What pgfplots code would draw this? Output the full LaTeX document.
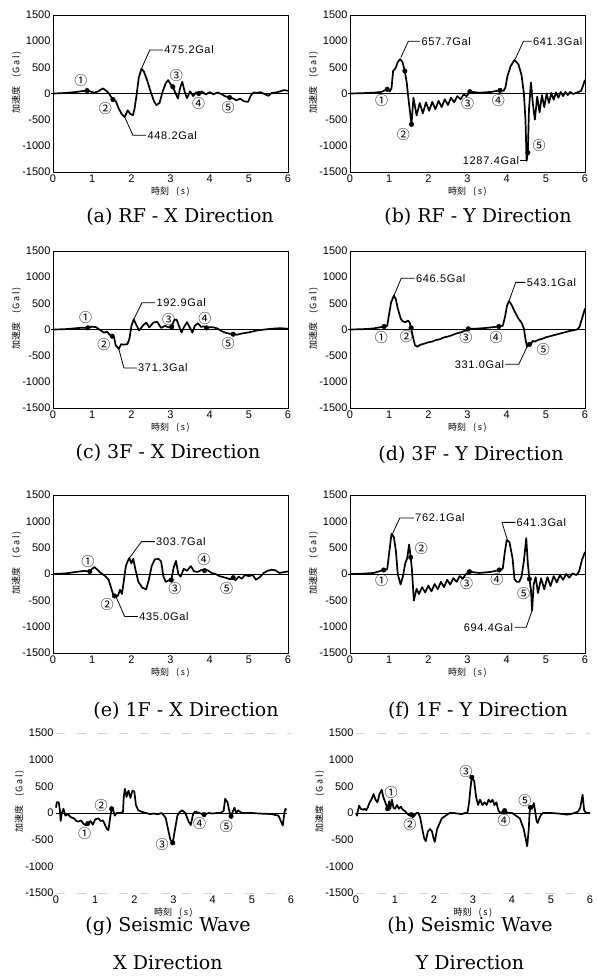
\documentclass[border=0pt]{standalone}
\usepackage{fontspec}
\usepackage{pgfplots}
\pgfplotsset{compat=1.18}

\newfontfamily\tickfamily{Liberation Sans}
\newfontfamily\valfamily[LetterSpace=6]{Liberation Sans}
\newfontfamily\jpfamily{Noto Sans CJK JP}
\newfontfamily\jpwidefamily[LetterSpace=18]{Noto Sans CJK JP}
\newfontfamily\capfamily{DejaVu Serif}
\newcommand\tickfont{\tickfamily\fontsize{11}{12}\selectfont}
\newcommand\valfont{\valfamily\fontsize{11}{12}\selectfont}
\newcommand\jpfont{\jpfamily\fontsize{9}{10}\selectfont}
\newcommand\circfont{\jpfamily\fontsize{13}{13}\selectfont}
\newcommand\capfont{\capfamily\fontsize{19}{22}\selectfont}
\newcommand\unit[1]{{\jpwidefamily\fontsize{9}{10}\selectfont #1}}

% circled marker number placed in data coordinates
\newcommand\cn[3]{\node[font=\circfont, inner sep=0pt] at (axis cs:#1,#2) {#3};}

\pgfplotsset{
  panel/.style={
    scale only axis, width=235pt, height=157pt,
    anchor=south west, clip=false,
    xmin=0, xmax=6, ymin=-1500, ymax=1500,
    xtick={0,1,...,6}, ytick={-1500,-1000,...,1500},
    tick pos=left, major tick length=0pt,
    ticklabel style={font=\tickfont},
    /pgf/number format/assume math mode=true,
    /pgf/number format/1000 sep={},
    xticklabel style={yshift=1pt},
    yticklabel style={xshift=1pt},
    axis line style={line width=0.8pt},
    xlabel={\jpfont 時刻\hspace{7pt}\unit{(s)}},
    ylabel={\jpfont 加速度\hspace{9pt}\unit{(Gal)}},
    xlabel style={at={(axis description cs:0.5,-0.125)}, anchor=center},
    ylabel style={at={(axis description cs:-0.155,0.57)}, anchor=center},
  },
  seis/.style={panel, height=160pt, axis line style={draw=none}},
  trace/.style={black, line width=1.7pt, line join=round, mark=none},
  dots/.style={black, only marks, mark=*, mark size=2.3pt},
}

\begin{document}
\begin{tikzpicture}
\useasboundingbox (0,0) rectangle (597pt,978pt);

% ---------------- (a) RF - X ----------------
\begin{axis}[panel, at={(53pt,806pt)}]
\draw[line width=0.6pt] (axis cs:-0.05,0) -- (axis cs:6,0);
\addplot[trace] coordinates {(0,0) (0.2,5) (0.4,15) (0.6,30) (0.75,45) (0.87,55) (0.95,40) (1.05,15) (1.15,40) (1.27,96) (1.35,60) (1.42,10) (1.48,-60) (1.53,-115) (1.6,-140) (1.68,-290) (1.76,-400) (1.83,-448.2) (1.91,-320) (1.97,-390) (2.04,-415) (2.08,-300) (2.13,-50) (2.19,300) (2.26,475.2) (2.32,420) (2.4,260) (2.5,20) (2.58,-150) (2.64,-223) (2.72,-180) (2.8,40) (2.88,200) (2.94,255) (3.0,180) (3.06,128) (3.12,20) (3.19,-96) (3.25,120) (3.30,223) (3.36,40) (3.42,-90) (3.5,40) (3.58,-50) (3.65,20) (3.72,0) (3.8,40) (3.9,-20) (4.0,25) (4.1,-15) (4.2,20) (4.3,-10) (4.4,-55) (4.51,-77) (4.6,-95) (4.68,-130) (4.78,-100) (4.88,-150) (4.98,-160) (5.05,-40) (5.12,20) (5.2,10) (5.3,25) (5.4,-10) (5.5,-45) (5.58,10) (5.7,20) (5.8,40) (5.9,65) (6.0,50)};
\addplot[dots] coordinates {(0.87,55) (1.53,-115) (3.06,128) (3.72,0) (4.51,-77)};
\cn{0.71}{255}{①}\cn{1.34}{-287}{②}\cn{3.15}{351}{③}\cn{3.72}{-191}{④}\cn{4.47}{-268}{⑤}
\draw[line width=0.8pt] (axis cs:2.26,475.2) -- (axis cs:2.47,830) -- (axis cs:2.81,830) node[right, font=\valfont, inner sep=1pt] {475.2Gal};
\draw[line width=0.8pt] (axis cs:1.83,-448.2) -- (axis cs:2.04,-797) -- (axis cs:2.38,-797) node[right, font=\valfont, inner sep=1pt] {448.2Gal};
\end{axis}

% ---------------- (b) RF - Y ----------------
\begin{axis}[panel, at={(350pt,806pt)}]
\draw[line width=0.6pt] (axis cs:-0.05,0) -- (axis cs:6,0);
\addplot[trace] coordinates {(0,0) (0.3,5) (0.6,15) (0.8,30) (0.95,80) (1.02,40) (1.06,100) (1.1,430) (1.16,480) (1.22,600) (1.28,657.7) (1.34,600) (1.40,430) (1.45,200) (1.5,-150) (1.57,-590) (1.62,-80) (1.70,-420) (1.78,-180) (1.86,-380) (1.94,-170) (2.02,-330) (2.10,-160) (2.18,-300) (2.26,-140) (2.34,-260) (2.42,-110) (2.50,-220) (2.58,-80) (2.66,-170) (2.74,-50) (2.82,-110) (2.90,-20) (2.98,-50) (3.06,35) (3.3,15) (3.6,30) (3.83,60) (3.92,50) (3.97,120) (4.02,330) (4.1,520) (4.2,641.3) (4.3,560) (4.38,350) (4.44,0) (4.48,-500) (4.51,-1287.4) (4.54,-1130) (4.57,-300) (4.62,210) (4.67,-200) (4.72,-500) (4.78,-60) (4.84,-360) (4.90,-30) (4.96,-260) (5.02,0) (5.08,-180) (5.14,10) (5.20,-120) (5.26,20) (5.32,-80) (5.38,30) (5.44,-50) (5.50,30) (5.56,-30) (5.62,30) (5.70,-10) (5.80,20) (5.9,50) (5.95,150) (6.0,260)};
\addplot[dots] coordinates {(0.95,80) (1.40,430) (1.57,-590) (3.06,35) (3.83,60) (4.54,-1130)};
\cn{0.81}{-135}{①}\cn{1.36}{-780}{②}\cn{3.0}{-200}{③}\cn{3.79}{-135}{④}\cn{4.83}{-990}{⑤}
\draw[line width=0.8pt] (axis cs:1.30,690) -- (axis cs:1.49,1000) -- (axis cs:1.79,1000) node[right, font=\valfont, inner sep=1pt] {657.7Gal};
\draw[line width=0.8pt] (axis cs:4.22,660) -- (axis cs:4.43,1000) -- (axis cs:4.64,1000) node[right, font=\valfont, inner sep=1pt] {641.3Gal};
\draw[line width=0.8pt] (axis cs:4.51,-1287.4) -- (axis cs:4.35,-1287.4) node[left, font=\valfont, inner sep=1pt] {1287.4Gal};
\end{axis}

% ---------------- (c) 3F - X ----------------
\begin{axis}[panel, at={(53pt,570pt)}]
\draw[line width=0.6pt] (axis cs:-0.05,0) -- (axis cs:6,0);
\addplot[trace] coordinates {(0,0) (0.3,5) (0.6,25) (0.75,35) (0.89,32) (1.0,55) (1.1,45) (1.2,-10) (1.3,-60) (1.38,-40) (1.45,-100) (1.51,-128) (1.56,-150) (1.6,-300) (1.68,-371.3) (1.74,-280) (1.8,-290) (1.9,-280) (1.95,-180) (2.0,60) (2.06,192.9) (2.12,100) (2.2,-20) (2.3,80) (2.38,130) (2.46,40) (2.56,130) (2.66,150) (2.76,30) (2.86,70) (2.95,40) (3.03,50) (3.1,190) (3.16,185) (3.22,60) (3.28,-60) (3.34,40) (3.42,140) (3.5,30) (3.56,-60) (3.62,70) (3.7,120) (3.78,50) (3.85,60) (3.92,30) (4.0,45) (4.1,40) (4.2,20) (4.3,-30) (4.4,-60) (4.5,-80) (4.6,-90) (4.7,-100) (4.8,-80) (5.0,-55) (5.2,-20) (5.4,0) (5.6,15) (5.8,25) (6.0,15)};
\addplot[dots] coordinates {(0.89,32) (1.51,-128) (3.03,50) (3.92,30) (4.6,-90)};
\cn{0.83}{223}{①}\cn{1.30}{-287}{②}\cn{2.95}{191}{③}\cn{3.88}{204}{④}\cn{4.47}{-268}{⑤}
\draw[line width=0.8pt] (axis cs:2.06,192.9) -- (axis cs:2.27,510) -- (axis cs:2.61,510) node[right, font=\valfont, inner sep=1pt] {192.9Gal};
\draw[line width=0.8pt] (axis cs:1.68,-371.3) -- (axis cs:1.81,-734) -- (axis cs:2.14,-734) node[right, font=\valfont, inner sep=1pt] {371.3Gal};
\end{axis}

% ---------------- (d) 3F - Y ----------------
\begin{axis}[panel, at={(350pt,570pt)}]
\draw[line width=0.6pt] (axis cs:-0.05,0) -- (axis cs:6,0);
\addplot[trace] coordinates {(0,0) (0.3,5) (0.6,20) (0.87,57) (0.95,70) (1.0,300) (1.05,520) (1.12,646.5) (1.17,580) (1.22,400) (1.3,200) (1.36,150) (1.42,140) (1.48,170) (1.52,140) (1.56,32) (1.61,-150) (1.66,-300) (1.72,-330) (1.8,-290) (1.9,-270) (2.0,-245) (2.1,-230) (2.2,-200) (2.3,-185) (2.4,-150) (2.5,-135) (2.6,-110) (2.7,-80) (2.8,-60) (2.9,-35) (3.02,13) (3.2,15) (3.4,25) (3.6,40) (3.8,57) (3.9,70) (3.96,250) (4.01,460) (4.06,543.1) (4.12,480) (4.2,350) (4.3,210) (4.38,130) (4.44,20) (4.48,-180) (4.52,-331.0) (4.56,-280) (4.61,-290) (4.66,-220) (4.72,-230) (4.8,-200) (4.9,-180) (5.0,-150) (5.1,-130) (5.2,-110) (5.3,-90) (5.4,-70) (5.5,-50) (5.6,-30) (5.7,-15) (5.8,0) (5.86,50) (5.92,200) (6.0,400)};
\addplot[dots] coordinates {(0.87,57) (1.56,32) (3.02,13) (3.8,57) (4.58,-285)};
\cn{0.80}{-145}{①}\cn{1.44}{-133}{②}\cn{2.96}{-158}{③}\cn{3.73}{-145}{④}\cn{4.94}{-385}{⑤}
\draw[line width=0.8pt] (axis cs:1.12,646.5) -- (axis cs:1.31,980) -- (axis cs:1.65,980) node[right, font=\valfont, inner sep=1pt] {646.5Gal};
\draw[line width=0.8pt] (axis cs:4.06,543.1) -- (axis cs:4.23,900) -- (axis cs:4.48,900) node[right, font=\valfont, inner sep=1pt] {543.1Gal};
\draw[line width=0.8pt] (axis cs:4.52,-331.0) -- (axis cs:4.31,-664) -- (axis cs:3.97,-664) node[left, font=\valfont, inner sep=1pt] {331.0Gal};
\end{axis}

% ---------------- (e) 1F - X ----------------
\begin{axis}[panel, height=158pt, at={(53pt,325pt)}]
\draw[line width=0.6pt] (axis cs:-0.05,0) -- (axis cs:6,0);
\addplot[trace] coordinates {(0,0) (0.3,10) (0.6,40) (0.8,60) (0.94,47) (1.0,100) (1.06,130) (1.12,90) (1.2,30) (1.3,-20) (1.36,-60) (1.42,-110) (1.48,-250) (1.53,-380) (1.57,-417) (1.61,-435.0) (1.66,-410) (1.71,-300) (1.76,-380) (1.81,-120) (1.86,150) (1.91,250) (1.95,303.7) (2.0,200) (2.05,290) (2.1,100) (2.18,-150) (2.28,-260) (2.38,-290) (2.45,-100) (2.52,150) (2.6,280) (2.7,285) (2.76,240) (2.82,-50) (2.88,-150) (2.96,-120) (3.02,-114) (3.08,120) (3.14,250) (3.2,0) (3.26,-50) (3.34,100) (3.42,60) (3.52,150) (3.6,50) (3.7,40) (3.8,80) (3.87,65) (3.95,70) (4.05,20) (4.15,0) (4.25,-40) (4.35,-60) (4.45,-80) (4.52,-100) (4.6,-70) (4.66,-120) (4.74,-50) (4.82,-90) (4.9,-20) (5.0,-40) (5.1,-20) (5.18,-110) (5.28,-60) (5.38,20) (5.48,60) (5.58,80) (5.68,70) (5.78,20) (5.9,35) (6.0,50)};
\addplot[dots] coordinates {(0.94,47) (1.57,-417) (3.02,-114) (3.87,65) (4.6,-70)};
\cn{0.89}{237}{①}\cn{1.38}{-588}{②}\cn{3.11}{-268}{③}\cn{3.85}{268}{④}\cn{4.43}{-268}{⑤}
\draw[line width=0.8pt] (axis cs:1.95,303.7) -- (axis cs:2.26,615) -- (axis cs:2.6,615) node[right, font=\valfont, inner sep=1pt] {303.7Gal};
\draw[line width=0.8pt] (axis cs:1.61,-435.0) -- (axis cs:1.83,-806) -- (axis cs:2.17,-806) node[right, font=\valfont, inner sep=1pt] {435.0Gal};
\end{axis}

% ---------------- (f) 1F - Y ----------------
\begin{axis}[panel, height=158pt, at={(350pt,325pt)}]
\draw[line width=0.6pt] (axis cs:-0.05,0) -- (axis cs:6,0);
\addplot[trace] coordinates {(0,0) (0.3,5) (0.6,20) (0.86,76) (0.95,90) (1.0,400) (1.06,762.1) (1.12,700) (1.17,450) (1.22,0) (1.29,-200) (1.35,-50) (1.41,200) (1.46,300) (1.51,560) (1.55,316) (1.58,100) (1.63,-506) (1.7,-280) (1.76,-380) (1.84,-250) (1.92,-350) (2.0,-220) (2.08,-330) (2.16,-190) (2.24,-290) (2.32,-150) (2.40,-250) (2.48,-110) (2.56,-200) (2.64,-80) (2.72,-150) (2.80,-40) (2.88,-90) (2.96,0) (3.05,44) (3.3,20) (3.6,40) (3.81,76) (3.9,100) (3.95,400) (4.0,641.3) (4.07,610) (4.15,300) (4.2,-100) (4.26,-150) (4.32,-150) (4.38,-50) (4.44,250) (4.5,680) (4.54,200) (4.58,-95) (4.62,-300) (4.65,-694.4) (4.69,-200) (4.74,-60) (4.8,-360) (4.88,-80) (4.96,-290) (5.04,-60) (5.12,-230) (5.2,-40) (5.28,-160) (5.36,-20) (5.44,-110) (5.52,0) (5.6,-70) (5.68,10) (5.78,-20) (5.85,50) (5.92,260) (6.0,420)};
\addplot[dots] coordinates {(0.86,76) (1.55,316) (3.05,44) (3.81,76) (4.58,-95)};
\cn{0.81}{-126}{①}\cn{1.82}{474}{②}\cn{2.98}{-177}{③}\cn{3.75}{-114}{④}\cn{4.43}{-367}{⑤}
\draw[line width=0.8pt] (axis cs:1.07,740) -- (axis cs:1.27,1062) -- (axis cs:1.63,1062) node[right, font=\valfont, inner sep=1pt] {762.1Gal};
\draw[line width=0.8pt] (axis cs:4.02,641.3) -- (axis cs:3.88,980) -- (axis cs:4.22,980) node[right, font=\valfont, inner sep=1pt] {641.3Gal};
\draw[line width=0.8pt] (axis cs:4.65,-694.4) -- (axis cs:4.5,-1010) -- (axis cs:4.2,-1010) node[left, font=\valfont, inner sep=1pt] {694.4Gal};
\end{axis}

% ---------------- (g) Seismic wave X ----------------
\begin{axis}[seis, at={(56pt,85pt)}]
\draw[gray!35, line width=0.7pt, dash pattern=on 9pt off 12pt] (axis cs:0,1500) -- (axis cs:6,1500);
\draw[gray!35, line width=0.7pt, dash pattern=on 9pt off 12pt] (axis cs:0,-1500) -- (axis cs:6,-1500);
\draw[line width=0.6pt] (axis cs:0,0) -- (axis cs:5.9,0);
\addplot[trace] coordinates {(0,100) (0.02,200) (0.07,200) (0.1,50) (0.12,-150) (0.15,0) (0.19,80) (0.24,-50) (0.3,-20) (0.38,-80) (0.46,-100) (0.52,-150) (0.58,-160) (0.64,-140) (0.7,-200) (0.76,-230) (0.81,-198) (0.88,-150) (0.94,-220) (1.0,-120) (1.08,-100) (1.14,-150) (1.2,-140) (1.25,-220) (1.3,-300) (1.34,-322) (1.38,-100) (1.42,80) (1.46,50) (1.5,-50) (1.55,0) (1.65,0) (1.71,20) (1.73,300) (1.76,453) (1.8,300) (1.85,420) (1.9,280) (1.95,420) (2.0,400) (2.04,150) (2.1,50) (2.2,20) (2.3,0) (2.4,-20) (2.5,-10) (2.6,-25) (2.7,0) (2.8,-90) (2.86,-300) (2.92,-500) (2.98,-560) (3.04,-300) (3.1,-50) (3.16,20) (3.22,50) (3.3,0) (3.38,-150) (3.44,-229) (3.5,-20) (3.55,30) (3.62,10) (3.7,-10) (3.78,-30) (3.9,0) (4.0,-10) (4.1,0) (4.2,0) (4.28,40) (4.32,267) (4.38,200) (4.43,20) (4.47,-62) (4.52,40) (4.56,100) (4.6,0) (4.65,50) (4.72,10) (4.8,0) (5.0,0) (5.2,-10) (5.5,-20) (5.68,-50) (5.74,-150) (5.79,-236) (5.83,0) (5.86,80) (5.88,50)};
\addplot[dots] coordinates {(0.81,-198) (1.42,80) (2.98,-560) (3.78,-30) (4.47,-62)};
\cn{0.73}{-384}{①}\cn{1.15}{143}{②}\cn{2.71}{-601}{③}\cn{3.67}{-198}{④}\cn{4.35}{-248}{⑤}
\end{axis}

% ---------------- (h) Seismic wave Y ----------------
\begin{axis}[seis, width=234pt, at={(356pt,85pt)}]
\draw[gray!35, line width=0.7pt, dash pattern=on 9pt off 12pt] (axis cs:0,1500) -- (axis cs:6,1500);
\draw[gray!35, line width=0.7pt, dash pattern=on 9pt off 12pt] (axis cs:0,-1500) -- (axis cs:6,-1500);
\draw[line width=0.6pt] (axis cs:0,0) -- (axis cs:6,0);
\addplot[trace] coordinates {(0,0) (0.03,-50) (0.05,50) (0.08,137) (0.12,80) (0.18,60) (0.22,80) (0.26,50) (0.3,100) (0.35,200) (0.4,260) (0.45,356) (0.5,250) (0.55,200) (0.6,350) (0.66,437) (0.7,300) (0.75,200) (0.81,81) (0.85,220) (0.88,80) (0.92,250) (0.96,100) (1.0,80) (1.05,150) (1.1,80) (1.15,120) (1.2,60) (1.25,40) (1.3,0) (1.35,-40) (1.42,-31) (1.45,-80) (1.5,-50) (1.55,0) (1.6,0) (1.65,-100) (1.7,-300) (1.75,-480) (1.79,-531) (1.84,-350) (1.9,-300) (1.95,-350) (1.99,-480) (2.02,-543) (2.08,-300) (2.14,-200) (2.2,-100) (2.3,-50) (2.4,0) (2.5,0) (2.6,-10) (2.7,-20) (2.8,0) (2.86,10) (2.9,200) (2.94,500) (2.97,669) (3.03,600) (3.08,300) (3.13,150) (3.18,250) (3.24,150) (3.3,200) (3.35,150) (3.4,250) (3.45,200) (3.5,250) (3.55,150) (3.6,200) (3.65,50) (3.7,0) (3.81,44) (3.9,0) (4.0,0) (4.1,-50) (4.2,-100) (4.3,-300) (4.39,-625) (4.43,-300) (4.45,0) (4.47,106) (4.51,80) (4.56,187) (4.6,0) (4.63,-150) (4.66,-187) (4.7,-100) (4.75,-30) (4.8,0) (4.9,0) (5.0,0) (5.2,-10) (5.4,-30) (5.5,-20) (5.6,0) (5.7,30) (5.75,100) (5.81,343) (5.85,50) (5.9,0) (6.0,0)};
\addplot[dots] coordinates {(0.81,81) (1.42,-31) (2.97,669) (3.81,44) (4.47,106)};
\cn{0.9}{375}{①}\cn{1.38}{-219}{②}\cn{2.82}{781}{③}\cn{3.80}{-144}{④}\cn{4.33}{231}{⑤}
\end{axis}

% ---------------- captions ----------------
\node[font=\capfont] at (180pt,761pt) {(a) RF - X Direction};
\node[font=\capfont] at (478pt,761pt) {(b) RF - Y Direction};
\node[font=\capfont] at (168pt,525pt) {(c) 3F - X Direction};
\node[font=\capfont] at (471pt,523pt) {(d) 3F - Y Direction};
\node[font=\capfont] at (186pt,267pt) {(e) 1F - X Direction};
\node[font=\capfont] at (478pt,267pt) {(f) 1F - Y Direction};
\node[font=\capfont] at (168pt,52pt) {(g) Seismic Wave};
\node[font=\capfont] at (168pt,15pt) {X Direction};
\node[font=\capfont] at (470pt,52pt) {(h) Seismic Wave};
\node[font=\capfont] at (470pt,15pt) {Y Direction};
\end{tikzpicture}
\end{document}
